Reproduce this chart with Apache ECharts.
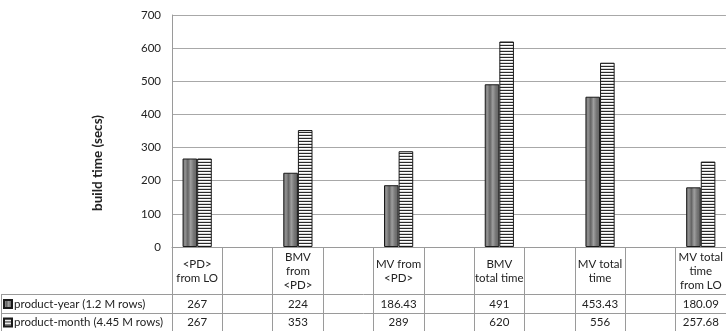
<!DOCTYPE html>
<html>
<head>
<meta charset="utf-8">
<script src="https://cdn.jsdelivr.net/npm/echarts@6/dist/echarts.min.js"></script>
<style>html,body{margin:0;padding:0;background:#fff;}#c{width:726px;height:331px;}</style>
</head>
<body>
<div id="c"></div>
<script>
// ---- data ----
const categories = ['<PD>\nfrom LO', '', 'BMV\nfrom\n<PD>', '', 'MV from\n<PD>', '', 'BMV\ntotal time', '', 'MV total\ntime', '', 'MV total\ntime\nfrom LO'];
const productYear = [267, null, 224, null, 186.43, null, 491, null, 453.43, null, 180.09];
const productMonth = [267, null, 353, null, 289, null, 620, null, 556, null, 257.68];
const seriesNames = ['product-year (1.2 M rows)', 'product-month (4.45 M rows)'];
const yTicks = [0, 100, 200, 300, 400, 500, 600, 700];
const yTitle = 'build time (secs)';

// ---- styles ----
const FONT = 'Lato';
function stripePattern() {
  const c = document.createElement('canvas');
  c.width = 4; c.height = 3;
  const g = c.getContext('2d');
  g.fillStyle = '#ffffff'; g.fillRect(0, 0, 4, 3);
  g.fillStyle = '#2a2a2a'; g.fillRect(0, 0, 4, 1);
  g.fillStyle = '#d8d8d8'; g.fillRect(0, 2, 4, 1);
  return c;
}
const darkFill = new echarts.graphic.LinearGradient(0, 0, 1, 0, [
  {offset: 0, color: '#6e6e6e'}, {offset: 0.18, color: '#929292'},
  {offset: 0.36, color: '#646464'}, {offset: 0.55, color: '#9e9e9e'},
  {offset: 0.75, color: '#767676'}, {offset: 1, color: '#606060'}
]);

const fmt = v => (v === null || v === undefined) ? '' : String(v);
const GRID = {left: 172, right: 0, top: 15, bottom: 84};
const lineCol = '#9a9a9a';
const txt = '#222';

const chart = echarts.init(document.getElementById('c'), null, {renderer: 'canvas'});
chart.setOption({
  animation: false,
  textStyle: {fontFamily: FONT},
  grid: GRID,
  legend: {
    orient: 'vertical', left: 3, top: 298, itemGap: 6.5, padding: 0, height: 40,
    itemWidth: 8, itemHeight: 8, icon: 'rect',
    textStyle: {fontFamily: FONT, fontSize: 11.5, color: txt, lineHeight: 12, padding: [0, 0, 0, -3]},
    data: seriesNames
  },
  xAxis: [
    {
      type: 'category', data: categories, boundaryGap: true,
      axisLine: {show: true, lineStyle: {color: lineCol}},
      axisTick: {show: true, interval: 0, length: 84, lineStyle: {color: lineCol}},
      axisLabel: {interval: 0, margin: 24, verticalAlign: 'middle', fontFamily: FONT, fontSize: 11.5, color: txt, lineHeight: 14}
    },
    {
      type: 'category', data: productYear.map(fmt), position: 'bottom', boundaryGap: true,
      axisLine: {show: false}, axisTick: {show: false},
      axisLabel: {interval: 0, margin: 57, verticalAlign: 'middle', fontFamily: FONT, fontSize: 11.5, color: txt}
    },
    {
      type: 'category', data: productMonth.map(fmt), position: 'bottom', boundaryGap: true,
      axisLine: {show: false}, axisTick: {show: false},
      axisLabel: {interval: 0, margin: 75.5, verticalAlign: 'middle', fontFamily: FONT, fontSize: 11.5, color: txt}
    }
  ],
  yAxis: {
    type: 'value', min: yTicks[0], max: yTicks[yTicks.length - 1], interval: 100,
    axisLine: {show: true, lineStyle: {color: lineCol}},
    axisTick: {show: false},
    axisLabel: {margin: 11, fontFamily: FONT, fontSize: 11.5, color: txt},
    splitLine: {lineStyle: {color: '#a8a8a8'}}
  },
  series: [
    {
      name: seriesNames[0], type: 'bar', data: productYear, barGap: '0%', barCategoryGap: '42%',
      itemStyle: {color: darkFill, borderColor: '#1a1a1a', borderWidth: 1}
    },
    {
      name: seriesNames[1], type: 'bar', data: productMonth, barGap: '0%', barCategoryGap: '42%',
      itemStyle: {color: {image: stripePattern(), repeat: 'repeat'}, borderColor: '#1a1a1a', borderWidth: 1}
    }
  ],
  graphic: [
    {type: 'text', x: 98, y: 163, rotation: Math.PI / 2, silent: true,
     style: {text: yTitle, fontFamily: FONT, fontSize: 13.5, fontWeight: 'bold', fill: txt, align: 'center', verticalAlign: 'middle'}},
    {type: 'line', shape: {x1: 1, y1: 294.5, x2: 726, y2: 294.5}, style: {stroke: lineCol, lineWidth: 1}, silent: true},
    {type: 'line', shape: {x1: 1, y1: 313.5, x2: 726, y2: 313.5}, style: {stroke: lineCol, lineWidth: 1}, silent: true},
    {type: 'line', shape: {x1: 1.5, y1: 294.5, x2: 1.5, y2: 331}, style: {stroke: lineCol, lineWidth: 1}, silent: true}
  ]
});
</script>
</body>
</html>
